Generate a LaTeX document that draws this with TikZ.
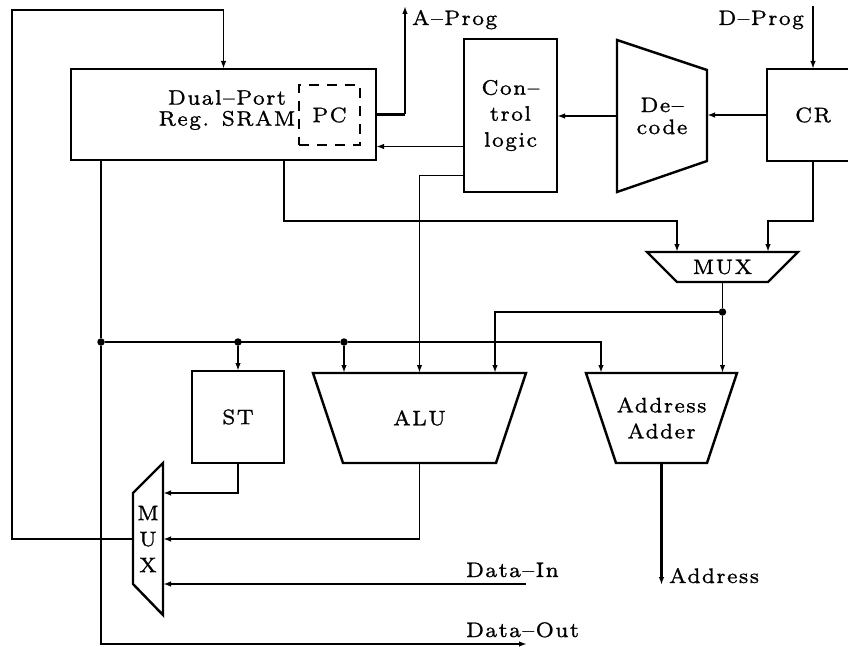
\documentclass[tikz,border=0pt]{standalone}
\usepackage{fontspec}
\usepackage{tikz}
\usetikzlibrary{arrows.meta,positioning,calc}
\newfontfamily\diagfont{lmroman7-regular.otf}[Ligatures=TeX,LetterSpace=6,FakeBold=1]

\begin{document}
\begin{tikzpicture}[x=1pt,y=-1pt,>={Latex[length=8pt,width=5.5pt]},
  font=\diagfont\fontsize{21}{22}\selectfont,
  blk/.style={draw,line width=2.8pt,inner sep=0pt,outer sep=0pt,align=center},
  trap/.style={inner sep=0pt,outer sep=0pt,align=center},
  trapline/.style={line width=2.4pt,line join=miter},
  pcbox/.style={draw,line width=2.4pt,dash pattern=on 10pt off 8pt,inner sep=0pt,outer sep=0pt},
  bus/.style={line width=2.8pt},
  wire/.style={line width=1.7pt},
  dot/.style={circle,fill,inner sep=0pt,minimum size=7.5pt},
  lbl/.style={inner sep=0pt,outer sep=0pt}]
  \useasboundingbox (0,0) rectangle (848,647);
  \clip (0,0) rectangle (848,647);
  % blocchi
  \node[blk,minimum width=305pt,minimum height=91pt] (sram) at (223.5,114.5) {};
  \node[trap] (sramlbl) at (227,110) {Dual--Port\\[-1pt]Reg. SRAM};
  \node[pcbox,minimum width=61pt,minimum height=60pt] (pc) at (329.5,115) {PC};
  \node[blk,minimum width=93pt,minimum height=153pt] (ctrl) at (510.5,115.5) {Con--\\[4pt]trol\\[4pt]logic};
  \node[trap,minimum width=90pt,minimum height=152pt] (dec) at (662,116) {De--\\code};
  \node[blk,minimum width=92pt,minimum height=92pt] (cr) at (813,115) {CR};
  \node[trap,minimum width=151pt,minimum height=30pt] (mux1) at (722.5,267) {MUX};
  \node[blk,minimum width=92pt,minimum height=92pt] (st) at (238,417) {ST};
  \node[trap,minimum width=213pt,minimum height=90pt] (alu) at (419.5,418) {ALU};
  \node[trap,minimum width=151pt,minimum height=90pt] (adder) at (661.5,418) {Address\\[4pt]Adder};
  \node[trap,minimum width=30pt,minimum height=152pt] (mux2) at (148,539) {M\\[4pt]U\\[4pt]X};
  % trapezi
  \foreach \n in {mux1,alu,adder}
    \draw[trapline] (\n.north west) -- (\n.north east) -- ([xshift=-30pt]\n.south east) -- ([xshift=30pt]\n.south west) -- cycle;
  \draw[trapline] (dec.north west) -- ([yshift=-30pt]dec.north east) -- ([yshift=31pt]dec.south east) -- (dec.south west) -- cycle;
  \draw[trapline] (mux2.north east) -- (mux2.south east) -- ([yshift=31pt]mux2.south west) -- ([yshift=-30pt]mux2.north west) -- cycle;
  % nodi del bus
  \node[dot] (d1) at (101,342) {};
  \node[dot] (d2) at (238,342) {};
  \node[dot] (d3) at (344,342) {};
  \node[dot] (d4) at (722.5,312) {};
  \coordinate (aprog) at (405,6);
  \coordinate (dprog) at (813,6);
  \coordinate (loop) at (12,10);
  \coordinate (datain) at (526,584);
  \coordinate (dataout) at (527,644);
  \coordinate (addr) at (661.5,585);
  % collegamenti
  \draw[wire,->] (mux2.west) -| (loop) -| (sram.north);
  \draw[bus] (sram.east) -- (sram.east -| aprog);
  \draw[wire,->] (sram.east -| aprog) -- (aprog);
  \draw[wire,->] ([yshift=-31pt]ctrl.west) -- ([yshift=-31pt]ctrl.west -| sram.east);
  \draw[wire,->] ([yshift=-60pt]ctrl.west) -| (alu.north);
  \draw[bus,->] (dec.west) -- (dec.west -| ctrl.east);
  \draw[bus,->] (cr.west) -- (cr.west -| dec.east);
  \draw[wire,->] (dprog) -- (cr.north);
  \draw[bus,->] ([xshift=60.5pt]sram.south) -- ++(0,61) -| ([xshift=-45.5pt]mux1.north);
  \draw[bus,->] (cr.south) -- ++(0,60) -| ([xshift=45.5pt]mux1.north);
  \draw[wire,->] (mux1.south) -- (d4) -- (d4 |- adder.north);
  \draw[wire,->] (d4) -| ([xshift=75.5pt]alu.north);
  \draw[bus,->] (d1) -- (d3) -| ([xshift=-60.5pt]adder.north);
  \draw[wire,->] (sram.south -| d1) -- (d1) |- (dataout);
  \draw[bus,->] (d2) -- (st.north);
  \draw[wire,->] (d3) -- (d3 |- alu.north);
  \draw[bus,->] (st.south) |- ([yshift=46pt]mux2.east);
  \draw[wire,->] (alu.south) |- (mux2.east);
  \draw[bus,->] (datain) -- (datain -| mux2.east);
  \draw[bus,->] (adder.south) -- (addr);
  % etichette
  \node[lbl,anchor=base west] (aproglbl) at (412,25) {A--Prog};
  \node[lbl,anchor=base east] (dproglbl) at (804,25) {D--Prog};
  \node[lbl,anchor=base west] (inlbl) at (466,577) {Data--In};
  \node[lbl,anchor=base west] (outlbl) at (466,637) {Data--Out};
  \node[lbl,anchor=base west] (addrlbl) at (669,583) {Address};
\end{tikzpicture}
\end{document}
